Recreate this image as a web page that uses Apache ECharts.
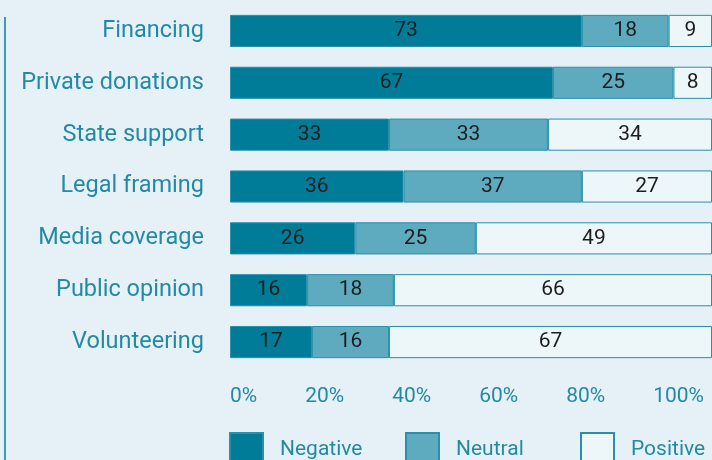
<!DOCTYPE html>
<html>
<head>
<meta charset="utf-8">
<script src="https://cdn.jsdelivr.net/npm/echarts@6/dist/echarts.min.js"></script>
<style>
html,body{margin:0;padding:0;background:#e5f1f6;}
#chart{width:712px;height:460px;}
</style>
</head>
<body>
<div id="chart"></div>
<script>
// ---- data ----
const categories = ['Financing','Private donations','State support','Legal framing','Media coverage','Public opinion','Volunteering'];
const negative = [73, 67, 33, 36, 26, 16, 17];
const neutral  = [18, 25, 33, 37, 25, 18, 16];
const positive = [9, 8, 34, 27, 49, 66, 67];
const seriesNames = ['Negative','Neutral','Positive'];
const tickValues = [0, 20, 40, 60, 80, 100];
const tickLabels = ['0%','20%','40%','60%','80%','100%'];

// ---- style / layout ----
const FONT = 'Roboto';
const TEAL_TEXT = '#2489a5';
const GRID_LEFT = 230, GRID_W = 486;
const LABEL_SPAN = [230, 708]; // tick labels are spread evenly across this span
const TICK_FONT = 21;

// measure tick label widths to spread them evenly (space-between)
const cv = document.createElement('canvas').getContext('2d');
cv.font = TICK_FONT + 'px ' + FONT;
const widths = tickLabels.map(t => cv.measureText(t).width);
const totalW = widths.reduce((a,b)=>a+b,0);
const gap = (LABEL_SPAN[1]-LABEL_SPAN[0]-totalW)/(tickLabels.length-1);
const rich = {};
let cursor = LABEL_SPAN[0];
tickLabels.forEach((t,i)=>{
  const center = cursor + widths[i]/2;
  const tickPx = GRID_LEFT + GRID_W * (tickValues[i]-0)/100;
  const d = center - tickPx;
  rich['t'+i] = {
    fontFamily: FONT, fontSize: TICK_FONT, color: TEAL_TEXT,
    padding: d > 0 ? [0,0,0,2*d] : [0,-2*d,0,0]
  };
  cursor += widths[i] + gap;
});

const colors = ['#007c99','#5eabbf','#edf6f9'];
const dataArrays = [negative, neutral, positive];

const chart = echarts.init(document.getElementById('chart'));
const series = seriesNames.map((n,i)=>({
  name: n,
  type: 'bar',
  stack: 'total',
  barWidth: '62%',
  data: dataArrays[i],
  itemStyle: {color: colors[i], borderColor: '#2a8fab', borderWidth: 1},
  label: {show: true, position: 'inside', color: '#1d1d1d', fontFamily: FONT, fontSize: 21},
  emphasis: {disabled: true}
}));

const legendLefts = [229, 405, 580];
const legends = seriesNames.map((n,i)=>({
  data: [n],
  left: legendLefts[i],
  top: 432,
  padding: 0,
  itemWidth: 33,
  itemHeight: 33,
  icon: 'rect',
  selectedMode: false,
  textStyle: {fontFamily: FONT, fontSize: 21, color: TEAL_TEXT, padding: [0,0,0,12]}
}));

chart.setOption({
  backgroundColor: '#e5f1f6',
  animation: false,
  grid: {left: GRID_LEFT, width: GRID_W, top: 5, height: 363},
  xAxis: {
    type: 'value', min: 0, max: 100, interval: 20,
    splitLine: {show: false}, axisLine: {show: false}, axisTick: {show: false},
    axisLabel: {
      margin: 18,
      formatter: (v) => { const i = tickValues.indexOf(v); return i < 0 ? '' : '{t'+i+'|'+tickLabels[i]+'}'; },
      rich: rich
    }
  },
  yAxis: {
    type: 'category', data: categories, inverse: true,
    axisLine: {show: false}, axisTick: {show: false},
    axisLabel: {fontFamily: FONT, fontSize: 23.5, color: TEAL_TEXT, margin: 26}
  },
  legend: legends,
  graphic: [{
    type: 'line', shape: {x1: 5, y1: 17, x2: 5, y2: 460},
    style: {stroke: '#3c9bb6', lineWidth: 2}
  }],
  series: series
});
</script>
</body>
</html>
